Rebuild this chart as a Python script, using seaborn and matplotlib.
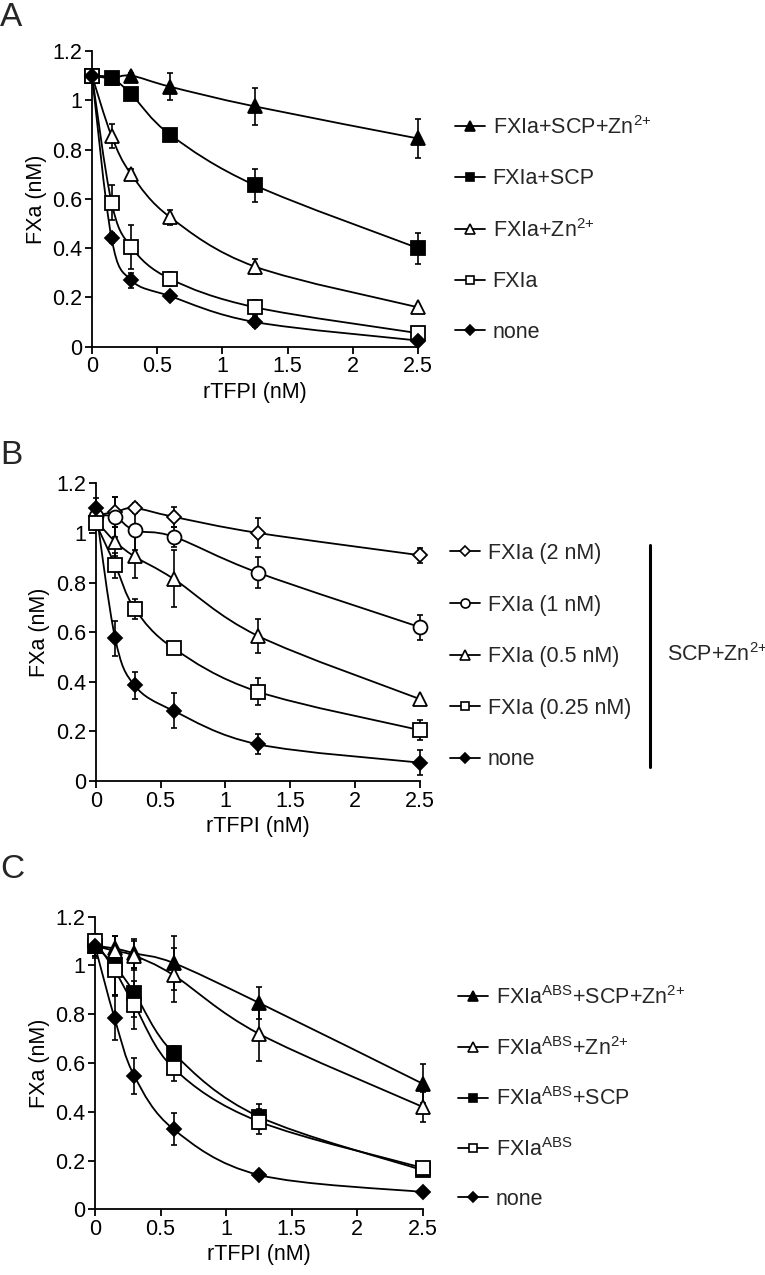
import matplotlib
matplotlib.use("Agg")
import matplotlib.pyplot as plt
import seaborn as sns
from matplotlib.path import Path
from matplotlib.patches import PathPatch
from matplotlib.lines import Line2D

# rTFPI concentrations (nM)
x = [0, 0.15, 0.3, 0.6, 1.25, 2.5]

# Panel A
a_scp_zn = [1.10, 1.09, 1.10, 1.055, 0.975, 0.845]
a_scp_zn_err = [0, 0, 0.01, 0.055, 0.075, 0.08]
a_scp = [1.10, 1.09, 1.025, 0.86, 0.655, 0.40]
a_scp_err = [0, 0, 0.01, 0.02, 0.067, 0.063]
a_zn = [1.10, 0.855, 0.70, 0.525, 0.325, 0.16]
a_zn_err = [0, 0.05, 0.02, 0.03, 0.03, 0.01]
a_fxia = [1.10, 0.585, 0.405, 0.275, 0.16, 0.055]
a_fxia_err = [0, 0.07, 0.088, 0.03, 0.03, 0.01]
a_none = [1.10, 0.44, 0.27, 0.205, 0.10, 0.025]
a_none_err = [0, 0.02, 0.03, 0.01, 0.02, 0.01]

# Panel B
b_2 = [1.07, 1.085, 1.10, 1.065, 1.00, 0.91]
b_2_err = [0.03, 0.06, 0.02, 0.04, 0.06, 0.03]
b_1 = [1.07, 1.065, 1.01, 0.985, 0.84, 0.62]
b_1_err = [0.03, 0.08, 0.08, 0.04, 0.063, 0.05]
b_05 = [1.05, 0.965, 0.905, 0.815, 0.585, 0.33]
b_05_err = [0.03, 0.06, 0.085, 0.115, 0.068, 0.01]
b_025 = [1.04, 0.87, 0.695, 0.535, 0.36, 0.205]
b_025_err = [0.03, 0.05, 0.04, 0.025, 0.055, 0.04]
b_none = [1.10, 0.575, 0.385, 0.283, 0.148, 0.074]
b_none_err = [0.04, 0.07, 0.056, 0.07, 0.04, 0.05]

# Panel C
c_scp_zn = [1.08, 1.07, 1.05, 1.01, 0.847, 0.515]
c_scp_zn_err = [0.05, 0.05, 0.06, 0.11, 0.065, 0.08]
c_zn = [1.08, 1.06, 1.04, 0.96, 0.72, 0.42]
c_zn_err = [0.04, 0.06, 0.06, 0.11, 0.11, 0.06]
c_scp = [1.08, 1.00, 0.888, 0.64, 0.38, 0.16]
c_scp_err = [0.04, 0.12, 0.10, 0.03, 0.05, 0.02]
c_abs = [1.10, 0.98, 0.838, 0.578, 0.36, 0.17]
c_abs_err = [0.03, 0.10, 0.10, 0.05, 0.05, 0.01]
c_none = [1.08, 0.783, 0.547, 0.328, 0.141, 0.071]
c_none_err = [0.03, 0.09, 0.075, 0.065, 0.01, 0.01]

labels_a = ['FXIa+SCP+Zn$^{2{+}}$', 'FXIa+SCP', 'FXIa+Zn$^{2{+}}$', 'FXIa', 'none']
labels_b = ['FXIa (2 nM)', 'FXIa (1 nM)', 'FXIa (0.5 nM)', 'FXIa (0.25 nM)', 'none']
labels_c = ['FXIa$^{ABS}$+SCP+Zn$^{2{+}}$', 'FXIa$^{ABS}$+Zn$^{2{+}}$',
            'FXIa$^{ABS}$+SCP', 'FXIa$^{ABS}$', 'none']

sns.set_style('ticks')
plt.rcParams['font.family'] = ['Liberation Sans', 'DejaVu Sans']
plt.rcParams['mathtext.default'] = 'regular'

# marker style per symbol: (marker, face, size, legend size)
sym = {
    'tri_f': ('^', 'black', 10, 6.5),
    'sq_f': ('s', 'black', 10, 6),
    'tri_o': ('^', 'white', 10, 6.5),
    'sq_o': ('s', 'white', 10, 6),
    'dia_f': ('D', 'black', 7, 5),
    'dia_o': ('D', 'white', 7.5, 5.5),
    'cir_o': ('o', 'white', 10, 6.5),
}


def smooth_path(xs, ys):
    # Excel-style smoothed line (Catmull-Rom as cubic Bezier segments)
    pts = list(zip(xs, ys))
    verts = [pts[0]]
    codes = [Path.MOVETO]
    n = len(pts)
    for i in range(n - 1):
        p0 = pts[i - 1] if i > 0 else pts[i]
        p1 = pts[i]
        p2 = pts[i + 1]
        p3 = pts[i + 2] if i + 2 < n else pts[i + 1]
        c1 = (p1[0] + (p2[0] - p0[0]) / 6, p1[1] + (p2[1] - p0[1]) / 6)
        c2 = (p2[0] - (p3[0] - p1[0]) / 6, p2[1] - (p3[1] - p1[1]) / 6)
        verts += [c1, c2, p2]
        codes += [Path.CURVE4] * 3
    return Path(verts, codes)


def draw_series(ax, ys, err, key):
    m, fc, ms, _ = sym[key]
    ax.errorbar(x, ys, yerr=err, fmt='none', ecolor='black', elinewidth=1.2,
                capsize=2.5, capthick=1.2, clip_on=False, zorder=2)
    ax.add_patch(PathPatch(smooth_path(x, ys), facecolor='none', edgecolor='black',
                           lw=1.3, transform=ax.transData, clip_on=False, zorder=3))
    ax.plot(x, ys, linestyle='none', marker=m, markersize=ms, markerfacecolor=fc,
            markeredgecolor='black', markeredgewidth=1.3, clip_on=False, zorder=4)


def style_axes(ax):
    ax.set_xlim(0, 2.5)
    ax.set_ylim(0, 1.2)
    ax.set_xticks([0, 0.5, 1, 1.5, 2, 2.5])
    ax.set_xticklabels(['0', '0.5', '1', '1.5', '2', '2.5'])
    ax.set_yticks([0, 0.2, 0.4, 0.6, 0.8, 1.0, 1.2])
    ax.set_yticklabels(['0', '0.2', '0.4', '0.6', '0.8', '1', '1.2'])
    ax.tick_params(axis='both', direction='out', length=5, width=1.3,
                   labelsize=15.5, color='black', labelcolor='black', pad=2)
    sns.despine(ax=ax)
    for s in ['left', 'bottom']:
        ax.spines[s].set_linewidth(1.3)
        ax.spines[s].set_color('black')
    ax.set_xlabel('rTFPI (nM)', fontsize=15.5, color='black', labelpad=3)
    ax.set_ylabel('FXa (nM)', fontsize=15.5, color='black', labelpad=4)
    ax.set_facecolor('none')


def add_legend(ax, keys, labels, anchor, spacing):
    handles = []
    for k in keys:
        m, fc, _, lms = sym[k]
        handles.append(Line2D([0], [0], color='black', lw=1.3, marker=m, markersize=lms,
                              markerfacecolor=fc, markeredgecolor='black',
                              markeredgewidth=1.2))
    ax.legend(handles, labels, loc='upper left', bbox_to_anchor=anchor,
              bbox_transform=fig.transFigure, frameon=False, fontsize=15.5,
              handlelength=1.4, handletextpad=0.35, labelspacing=spacing, borderpad=0,
              borderaxespad=0)


fig = plt.figure(figsize=(7.65, 12.75), dpi=100)
W, H = 765, 1275

axA = fig.add_axes([92 / W, 1 - 346.7 / H, 326 / W, 295.7 / H])
axB = fig.add_axes([95.7 / W, 1 - 781 / H, 324.3 / W, 297.7 / H])
axC = fig.add_axes([95 / W, 1 - 1209.3 / H, 327.7 / W, 292.6 / H])

keys_a = ['tri_f', 'sq_f', 'tri_o', 'sq_o', 'dia_f']
for ys, err, k in zip([a_scp_zn, a_scp, a_zn, a_fxia, a_none],
                      [a_scp_zn_err, a_scp_err, a_zn_err, a_fxia_err, a_none_err], keys_a):
    draw_series(axA, ys, err, k)
style_axes(axA)
add_legend(axA, keys_a, labels_a, (455 / W, 1 - 116 / H), 1.37)

keys_b = ['dia_o', 'cir_o', 'tri_o', 'sq_o', 'dia_f']
for ys, err, k in zip([b_2, b_1, b_05, b_025, b_none],
                      [b_2_err, b_1_err, b_05_err, b_025_err, b_none_err], keys_b):
    draw_series(axB, ys, err, k)
style_axes(axB)
add_legend(axB, keys_b, labels_b, (450 / W, 1 - 543 / H), 1.42)
fig.add_artist(Line2D([650 / W, 650 / W], [1 - 545 / H, 1 - 767 / H],
                      transform=fig.transFigure, color='black', lw=2.2))
fig.text(667 / W, 1 - 655 / H, 'SCP+Zn$^{2{+}}$', fontsize=15.5, va='center', ha='left')

keys_c = ['tri_f', 'tri_o', 'sq_f', 'sq_o', 'dia_f']
for ys, err, k in zip([c_scp_zn, c_zn, c_scp, c_abs, c_none],
                      [c_scp_zn_err, c_zn_err, c_scp_err, c_abs_err, c_none_err], keys_c):
    draw_series(axC, ys, err, k)
style_axes(axC)
add_legend(axC, keys_c, labels_c, (458 / W, 1 - 986 / H), 1.29)

for letter, (lx, ly) in zip('ABC', [(0, 18), (0, 456), (0, 870)]):
    fig.text(lx / W, 1 - ly / H, letter, fontsize=24, va='center', ha='left')

fig.savefig('out.png', dpi=100)
